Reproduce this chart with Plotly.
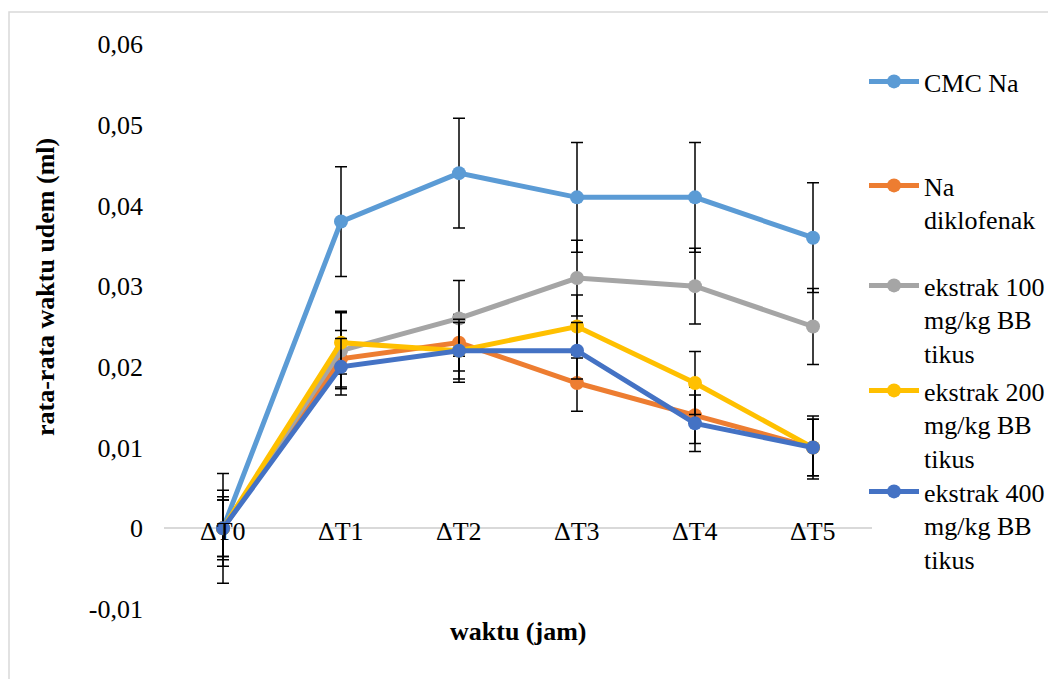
import plotly.graph_objects as go

categories = ["ΔT0", "ΔT1", "ΔT2", "ΔT3", "ΔT4", "ΔT5"]
series_names = ["CMC Na", "Na<br>diklofenak", "ekstrak 100<br>mg/kg BB<br>tikus",
                "ekstrak 200<br>mg/kg BB<br>tikus", "ekstrak 400<br>mg/kg BB<br>tikus"]
cmc_na = [0, 0.038, 0.044, 0.041, 0.041, 0.036]
na_diklofenak = [0, 0.021, 0.023, 0.018, 0.014, 0.010]
ekstrak_100 = [0, 0.022, 0.026, 0.031, 0.030, 0.025]
ekstrak_200 = [0, 0.023, 0.022, 0.025, 0.018, 0.010]
ekstrak_400 = [0, 0.020, 0.022, 0.022, 0.013, 0.010]
error_values = [0.0068, 0.0035, 0.0047, 0.0039, 0.0035]
colors = ["#5B9BD5", "#ED7D31", "#A5A5A5", "#FFC000", "#4472C4"]
y_ticks = [-0.01, 0, 0.01, 0.02, 0.03, 0.04, 0.05, 0.06]
y_ticktext = ["-0,01", "0", "0,01", "0,02", "0,03", "0,04", "0,05", "0,06"]

FONT = "Liberation Serif, Times New Roman, serif"
FS = 26

# page offset of the figure (body margin)
OFF = 8
W, H = 1056, 679
# plot area in screen pixels
PX0, PX1, PY0, PY1 = 164, 872, 44, 609
L = PX0 - OFF
R = W - (PX1 - OFF)
T = PY0 - OFF
B = H - (PY1 - OFF)
pw = PX1 - PX0
ph = PY1 - PY0


def px(x):
    return (x - PX0) / pw


def py(y):
    return (PY1 - y) / ph


all_values = [cmc_na, na_diklofenak, ekstrak_100, ekstrak_200, ekstrak_400]
legend_ids = ["legend", "legend2", "legend3", "legend4", "legend5"]
legend_tops = [58, 162, 262, 367, 468]

fig = go.Figure()
for name, vals, err, col, lid in zip(series_names, all_values, error_values, colors, legend_ids):
    fig.add_trace(go.Scatter(
        x=categories, y=vals, name=name, mode="lines+markers",
        line=dict(color=col, width=5),
        marker=dict(color=col, size=14),
        error_y=dict(type="constant", value=err, color="black", thickness=1.5, width=6),
        legend=lid, showlegend=True,
    ))

layout_legends = {}
for lid, top in zip(legend_ids, legend_tops):
    layout_legends[lid] = dict(
        x=px(864), xanchor="left",
        y=py(top), yanchor="top",
        font=dict(family=FONT, size=FS, color="black"),
        bgcolor="rgba(0,0,0,0)", borderwidth=0,
        valign="top", itemwidth=50, visible=True,
    )

annotations = []
for c in categories:
    annotations.append(dict(x=c, y=0, xref="x", yref="y", text=c, showarrow=False,
                            yanchor="middle", yshift=-3,
                            font=dict(family=FONT, size=FS, color="black")))
annotations.append(dict(x=0.5, y=py(631), xref="paper", yref="paper",
                        text="<b>waktu (jam)</b>", showarrow=False, yanchor="middle",
                        font=dict(family=FONT, size=FS, color="black")))
annotations.append(dict(x=px(45), y=py(287), xref="paper", yref="paper",
                        text="<b>rata-rata waktu udem (ml)</b>", showarrow=False, textangle=-90,
                        xanchor="center", yanchor="middle",
                        font=dict(family=FONT, size=FS, color="black")))

fig.update_layout(
    width=W, height=H,
    margin=dict(l=L, r=R, t=T, b=B),
    paper_bgcolor="white", plot_bgcolor="white",
    showlegend=True,
    font=dict(family=FONT, size=FS, color="black"),
    xaxis=dict(type="category", range=[-0.5, 5.5], showticklabels=False, showgrid=False,
               zeroline=False, showline=False, ticks=""),
    yaxis=dict(range=[-0.01, 0.06], tickvals=y_ticks, ticktext=y_ticktext, showgrid=False,
               zeroline=True, zerolinecolor="#D9D9D9", zerolinewidth=1.5, showline=False,
               ticks="", ticklabelstandoff=20,
               tickfont=dict(family=FONT, size=FS, color="black")),
    annotations=annotations,
    shapes=[dict(type="rect", xref="paper", yref="paper",
                 x0=px(9), x1=2, y0=-1, y1=py(12),
                 line=dict(color="#D9D9D9", width=1.5), layer="below")],
    **layout_legends,
)

fig.write_html("out.html")
